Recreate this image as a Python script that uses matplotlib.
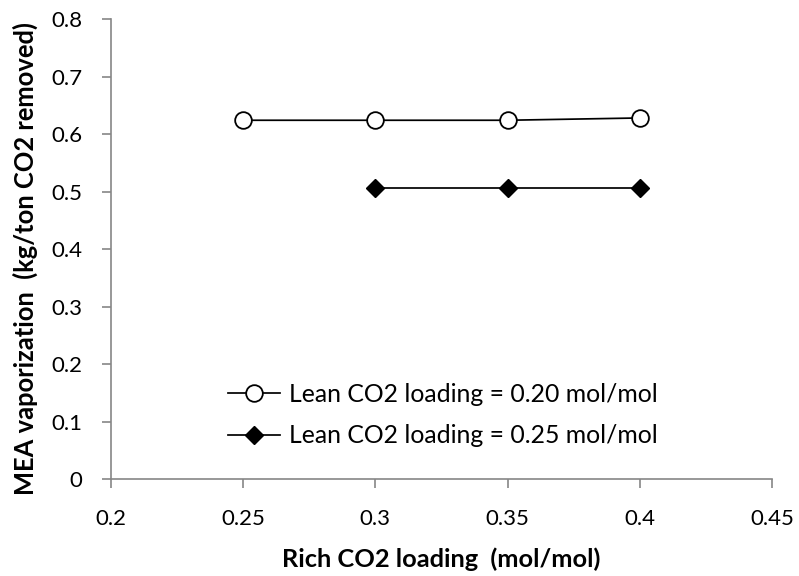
import matplotlib
matplotlib.use("Agg")
import matplotlib.pyplot as plt

rich_020 = [0.25, 0.30, 0.35, 0.40]
mea_020 = [0.624, 0.624, 0.624, 0.628]
rich_025 = [0.30, 0.35, 0.40]
mea_025 = [0.507, 0.507, 0.507]
labels = ["Lean CO2 loading = 0.20 mol/mol", "Lean CO2 loading = 0.25 mol/mol"]
xticks = [0.2, 0.25, 0.3, 0.35, 0.4, 0.45]
yticks = [0, 0.1, 0.2, 0.3, 0.4, 0.5, 0.6, 0.7, 0.8]

plt.rcParams['font.family'] = ['Lato', 'DejaVu Sans']
fig = plt.figure(figsize=(7.99, 5.76), dpi=100)
ax = fig.add_axes([0.139, 0.168, 0.827, 0.799])

ax.plot(rich_020, mea_020, color='black', lw=1.25, marker='o', ms=12,
        mfc='white', mec='black', mew=1.3, label=labels[0])
ax.plot(rich_025, mea_025, color='black', lw=1.25, marker='D', ms=8.8,
        mfc='black', mec='black', mew=1.0, label=labels[1])

ax.set_xlim(0.2, 0.45)
ax.set_ylim(0, 0.8)
ax.set_xticks(xticks)
ax.set_xticklabels([f"{v:g}" for v in xticks])
ax.set_yticks(yticks)
ax.set_yticklabels([f"{v:g}" for v in yticks])
for s in ['top', 'right']:
    ax.spines[s].set_visible(False)
for s in ['left', 'bottom']:
    ax.spines[s].set_color('#868686')
    ax.spines[s].set_linewidth(1.2)
ax.tick_params(axis='both', direction='out', length=6.5, width=1.2, color='#868686',
               labelsize=16)
ax.tick_params(axis='y', pad=14)
ax.tick_params(axis='x', pad=15)
ax.set_xlabel("Rich CO2 loading  (mol/mol)", fontsize=18.3, fontweight='bold')
ax.set_ylabel("MEA vaporization  (kg/ton CO2 removed)", fontsize=18.4, fontweight='bold')
ax.xaxis.set_label_coords(0.5, -0.148)
ax.yaxis.set_label_coords(-0.1106, 0.480)

ax.legend(loc='lower left', bbox_to_anchor=(0.144, 0.021), frameon=False, fontsize=17.8,
          handlelength=2.1, handletextpad=0.35, labelspacing=0.75)

fig.savefig("out.png", dpi=100)
